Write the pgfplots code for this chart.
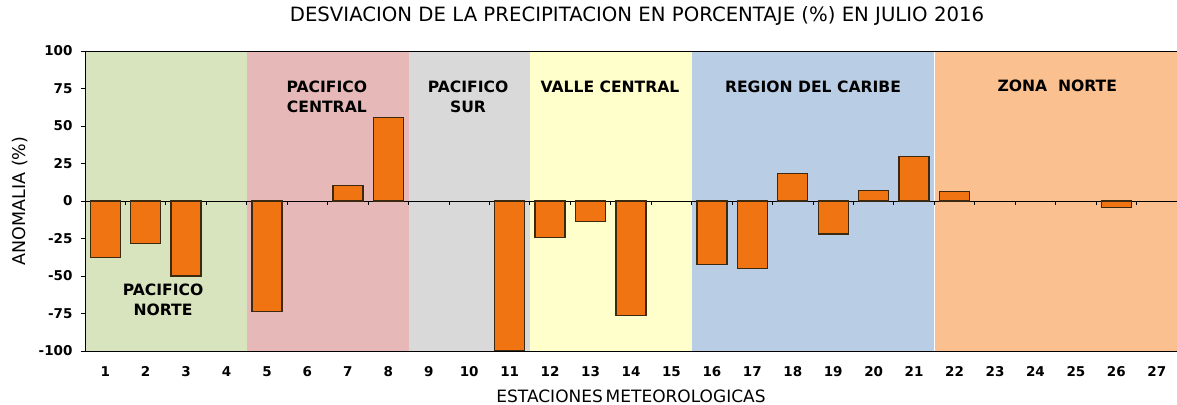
\documentclass[border=0pt]{standalone}
\usepackage{pgfplots}
\pgfplotsset{compat=1.18}
\usepackage{fontspec}
\setmainfont{DejaVu Sans}
\definecolor{bgreen}{HTML}{D7E4BD}
\definecolor{bpink}{HTML}{E6B9B8}
\definecolor{bgray}{HTML}{D9D9D9}
\definecolor{byellow}{HTML}{FFFFCC}
\definecolor{bblue}{HTML}{B9CDE5}
\definecolor{borange}{HTML}{FAC090}
\definecolor{barfill}{HTML}{F07412}
\definecolor{bardark}{HTML}{A04A0A}
\definecolor{bardraw}{HTML}{3C2A10}
\pgfdeclarehorizontalshading{barshade}{100bp}{color(0bp)=(bardark); color(12bp)=(barfill); color(88bp)=(barfill); color(100bp)=(bardark)}
\begin{document}
\begin{tikzpicture}
\begin{axis}[
  scale only axis,
  width=1092bp, height=300bp,
  xmin=0.5, xmax=27.5,
  ymin=-100, ymax=100,
  axis on top=true,
  axis line style={black, line width=0.9bp},
  xtick={1,...,27},
  xticklabels={1,2,3,4,5,6,7,8,9,10,11,12,13,14,15,16,17,18,19,20,21,22,23,24,25,26,27},
  x tick style={draw=none},
  ytick={-100,-75,-50,-25,0,25,50,75,100},
  yticklabels={-100,-75,-50,-25,0,25,50,75,100},
  y tick style={black, line width=0.8bp},
  tick align=outside,
  major tick length=4bp,
  ytick pos=left,
  xticklabel style={font=\fontsize{13.5bp}{15bp}\selectfont\bfseries, yshift=-8bp},
  yticklabel style={font=\fontsize{13.5bp}{15bp}\selectfont\bfseries, xshift=-5bp},
  title={DESVIACION DE LA PRECIPITACION EN PORCENTAJE (\%) EN JULIO 2016},
  title style={font=\fontsize{19.7bp}{22bp}\selectfont, at={(axis description cs:0.5,1)}, yshift=29bp, xshift=6bp, anchor=center},
  xlabel={ESTACIONES\hspace{-0.15em} METEOROLOGICAS},
  xlabel style={font=\fontsize{17bp}{19bp}\selectfont, at={(axis description cs:0.5,0)}, yshift=-45bp, anchor=center},
  ylabel={ANOMALIA (\%)},
  ylabel style={font=\fontsize{17.5bp}{19bp}\selectfont, at={(axis description cs:-0.0597,0.5)}, anchor=center},
  ybar, bar width=30bp,
]
\fill[bgreen] (axis cs:0.5,-100) rectangle (axis cs:4.5,100);
\fill[bpink] (axis cs:4.5,-100) rectangle (axis cs:8.5,100);
\fill[bgray] (axis cs:8.5,-100) rectangle (axis cs:11.5,100);
\fill[byellow] (axis cs:11.5,-100) rectangle (axis cs:15.5,100);
\fill[bblue] (axis cs:15.5,-100) rectangle (axis cs:21.5,100);
\fill[borange] (axis cs:21.5,-100) rectangle (axis cs:27.5,100);
\draw[white, line width=1.5bp] (axis cs:21.5,-100) -- (axis cs:21.5,100);
\draw[black, line width=0.9bp] (axis cs:0.5,0) -- (axis cs:27.5,0);
\pgfplotsinvokeforeach{1.5,2.5,...,26.5}{\draw[black, line width=0.8bp] (axis cs:#1,0) -- (axis cs:#1,-2.7);}
\addplot[shading=barshade, draw=bardraw, line width=1.3bp] coordinates {
 (1,-37.5) (2,-28.2) (3,-50) (5,-73.8) (7,10.2) (8,55.8) (11,-100)
 (12,-24.2) (13,-13.8) (14,-76.2) (16,-42.2) (17,-45.1) (18,18.2)
 (19,-22) (20,7.1) (21,29.8) (22,6.4) (26,-4.4)
};
\begin{scope}[font=\fontsize{15.6bp}{20bp}\selectfont\bfseries, align=center]
\node at (axis cs:2.43,-66) {PACIFICO\\NORTE};
\node at (axis cs:6.48,69.5) {PACIFICO\\CENTRAL};
\node at (axis cs:9.97,69.5) {PACIFICO\\SUR};
\node at (axis cs:13.48,76) {VALLE CENTRAL};
\node at (axis cs:18.5,76) {REGION DEL CARIBE};
\node at (axis cs:24.54,76.5) {ZONA\ \ NORTE};
\end{scope}
\end{axis}
\pgfresetboundingbox
\path ([shift={(-85bp,-54bp)}]current axis.south west) rectangle ([shift={(0bp,51bp)}]current axis.north east);
\end{tikzpicture}
\end{document}
